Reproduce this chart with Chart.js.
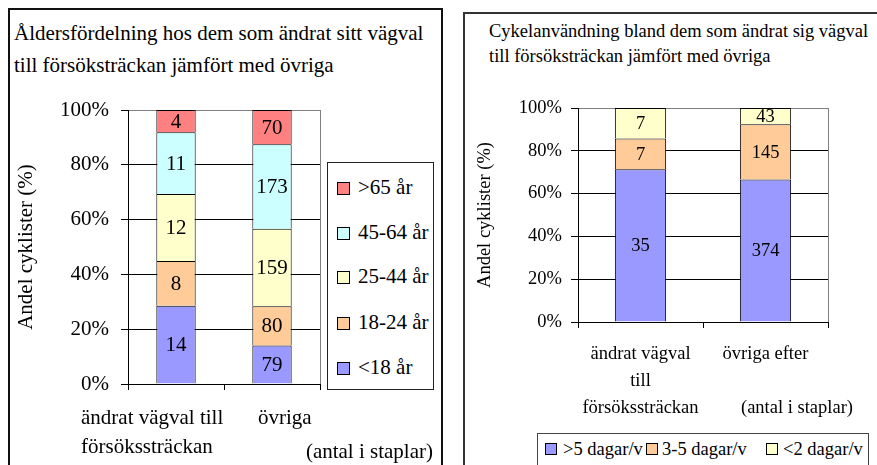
<!DOCTYPE html>
<html>
<head>
<meta charset="utf-8">
<script src="https://cdn.jsdelivr.net/npm/chart.js@4/dist/chart.umd.min.js"></script>
<style>
  body { margin: 0; width: 877px; height: 465px; background: #fff; position: relative; overflow: hidden; font-family: "Liberation Serif", "Times New Roman", Times, serif; color: #000; }
  .panel { position: absolute; border: 2px solid #111; box-sizing: border-box; }
  .txt { position: absolute; white-space: nowrap; }
  canvas { position: absolute; top: 0; }
  .legend { position: absolute; border: 1px solid #222; box-sizing: border-box; background: #fff; }
  .sw { position: absolute; border: 1px solid #000; box-sizing: border-box; }
</style>
</head>
<body>
<div class="panel" style="left:8px;top:8px;width:435px;height:480px;"></div>
<div class="panel" style="left:463px;top:12px;width:430px;height:480px;border-color:#333;"></div>

<div class="txt" style="left:14px;top:17px;font-size:21px;line-height:32px;">Åldersfördelning hos dem som ändrat sitt vägval<br>till försöksträckan jämfört med övriga</div>
<div class="txt" style="left:489px;top:19px;font-size:18.5px;line-height:25px;">Cykelanvändning bland dem som ändrat sig vägval<br>till försöksträckan jämfört med övriga</div>

<canvas id="ageChart" width="450" height="465" style="left:0;"></canvas>
<canvas id="useChart" width="427" height="465" style="left:450px;"></canvas>

<div id="ageLabels"></div>
<div class="txt" style="right:444px;top:437px;font-size:21px;line-height:28px;">(antal i staplar)</div>
<div class="txt" style="left:741px;top:394px;font-size:18.5px;line-height:26px;">(antal i staplar)</div>

<div class="legend" id="ageLegend" style="left:327px;top:162px;width:107px;height:228px;"></div>
<div class="legend" id="useLegend" style="left:537px;top:433px;width:332px;height:45px;border-color:#444;"></div>

<script>
// kategorier och värden
const ageCategories = [['ändrat vägval till', 'försökssträckan'], ['övriga']];
const ageGroups = ['<18 år', '18-24 år', '25-44 år', '45-64 år', '>65 år'];
const ageUnder18 = [14, 79];
const age18to24 = [8, 80];
const age25to44 = [12, 159];
const age45to64 = [11, 173];
const ageOver65 = [4, 70];
const ageColors = ['#9999ff', '#ffcc99', '#ffffcc', '#ccffff', '#ff8080'];

const useCategories = [['ändrat vägval', 'till', 'försökssträckan'], ['övriga efter']];
const useGroups = ['>5 dagar/v', '3-5 dagar/v', '<2 dagar/v'];
const useOver5 = [35, 374];
const use3to5 = [7, 145];
const useUnder2 = [7, 43];
const useColors = ['#9999ff', '#ffcc99', '#ffffcc'];

const percentTicks = [0, 20, 40, 60, 80, 100];

const serif = '"Liberation Serif", "Times New Roman", Times, serif';
Chart.defaults.font.family = serif;
Chart.defaults.color = '#000';

// andel av stapelns total
function toPercent(series) {
    const totals = series[0].map((_, i) => series.reduce((s, arr) => s + arr[i], 0));
    return series.map(arr => arr.map((v, i) => v / totals[i] * 100));
}

// antal skrivs mitt i varje stapeldel
const countLabels = {
    id: 'countLabels',
    afterDatasetsDraw(chart, args, opts) {
        const ctx = chart.ctx;
        ctx.save();
        ctx.font = opts.size + 'px ' + serif;
        ctx.fillStyle = '#000';
        ctx.textAlign = 'center';
        ctx.textBaseline = 'middle';
        chart.data.datasets.forEach((ds, di) => {
            chart.getDatasetMeta(di).data.forEach((bar, i) => {
                ctx.fillText(ds.counts[i], bar.x, (bar.y + bar.base) / 2 + 1);
            });
        });
        ctx.restore();
    }
};

// grå ram runt ritytan
const plotFrame = {
    id: 'plotFrame',
    beforeDraw(chart) {
        const a = chart.chartArea, ctx = chart.ctx;
        ctx.save();
        ctx.strokeStyle = '#808080';
        ctx.lineWidth = 1;
        ctx.strokeRect(Math.round(a.left) + 0.5, Math.round(a.top) + 0.5, Math.round(a.right - a.left), Math.round(a.bottom - a.top));
        ctx.restore();
    }
};

function makeChart(id, categories, groups, series, colors, cfg) {
    const pct = toPercent(series);
    return new Chart(document.getElementById(id), {
        type: 'bar',
        data: {
            labels: categories,
            datasets: groups.map((g, i) => ({
                label: g,
                data: pct[i],
                counts: series[i],
                backgroundColor: colors[i],
                borderColor: '#000',
                borderWidth: 1,
                barPercentage: 0.41,
                categoryPercentage: 1
            }))
        },
        options: {
            responsive: false,
            animation: false,
            layout: { padding: cfg.padding },
            plugins: {
                legend: { display: false },
                tooltip: { enabled: false },
                countLabels: { size: cfg.font }
            },
            scales: {
                x: {
                    stacked: true,
                    grid: { offset: true, drawOnChartArea: false, color: '#000', tickLength: 6 },
                    border: { color: '#000' },
                    ticks: {
                        display: cfg.xTicks,
                        font: { size: cfg.font, lineHeight: 1.45 },
                        padding: cfg.xPad,
                        maxRotation: 0,
                        autoSkip: false
                    },
                    afterFit: s => { s.height = cfg.xHeight; }
                },
                y: {
                    stacked: true,
                    min: 0,
                    max: 100,
                    afterBuildTicks: s => { s.ticks = percentTicks.map(v => ({ value: v })); },
                    ticks: { callback: v => v + '%', font: { size: cfg.font }, padding: cfg.yPad },
                    grid: { color: c => c.tick && c.tick.value === 100 ? 'rgba(0,0,0,0)' : '#000', tickColor: '#000', tickLength: 7 },
                    border: { color: '#000' },
                    title: { display: true, text: 'Andel cyklister (%)', font: { size: cfg.font }, padding: 0 },
                    afterFit: s => { s.width = cfg.yWidth; }
                }
            }
        },
        plugins: [plotFrame, countLabels]
    });
}

makeChart('ageChart', ageCategories, ageGroups,
    [ageUnder18, age18to24, age25to44, age45to64, ageOver65], ageColors,
    { padding: { left: 14, top: 110, right: 130, bottom: 61 }, yWidth: 114, xHeight: 20, font: 21, yPad: 12, xTicks: false, xPad: 0 });

makeChart('useChart', useCategories, useGroups,
    [useOver5, use3to5, useUnder2], useColors,
    { padding: { left: 24, top: 108, right: 49, bottom: 43 }, yWidth: 104, xHeight: 100, font: 18.5, yPad: 9, xTicks: true, xPad: 13 });

// kategorinamn under vänstra diagrammet
const ageLabelPos = [[81, 403], [258, 403]];
document.getElementById('ageLabels').innerHTML = ageCategories.map((lines, i) =>
    `<div class="txt" style="left:${ageLabelPos[i][0]}px;top:${ageLabelPos[i][1]}px;font-size:21px;line-height:28.5px;">${lines.join('<br>')}</div>`
).join('');

// förklaringar
function swatchItem(color, label, x, y, size, textX, fontSize) {
    return `<div class="sw" style="left:${x}px;top:${y - size / 2}px;width:${size}px;height:${size}px;background:${color};"></div>` +
        `<div class="txt" style="left:${textX}px;top:${y - fontSize * 0.6}px;font-size:${fontSize}px;line-height:${fontSize * 1.2}px;">${label.replace('<', '&lt;')}</div>`;
}
const ageLegendY = [25, 70, 114, 160, 205];
document.getElementById('ageLegend').innerHTML = ageGroups.slice().reverse().map((g, i) =>
    swatchItem(ageColors[ageColors.length - 1 - i], g, 9, ageLegendY[i], 13, 30, 21)).join('');

const useLegendX = [[7, 25], [108, 124], [228, 245]];
document.getElementById('useLegend').innerHTML = useGroups.map((g, i) =>
    swatchItem(useColors[i], g, useLegendX[i][0], 15, 12, useLegendX[i][1], 18.5)).join('');
</script>
</body>
</html>
